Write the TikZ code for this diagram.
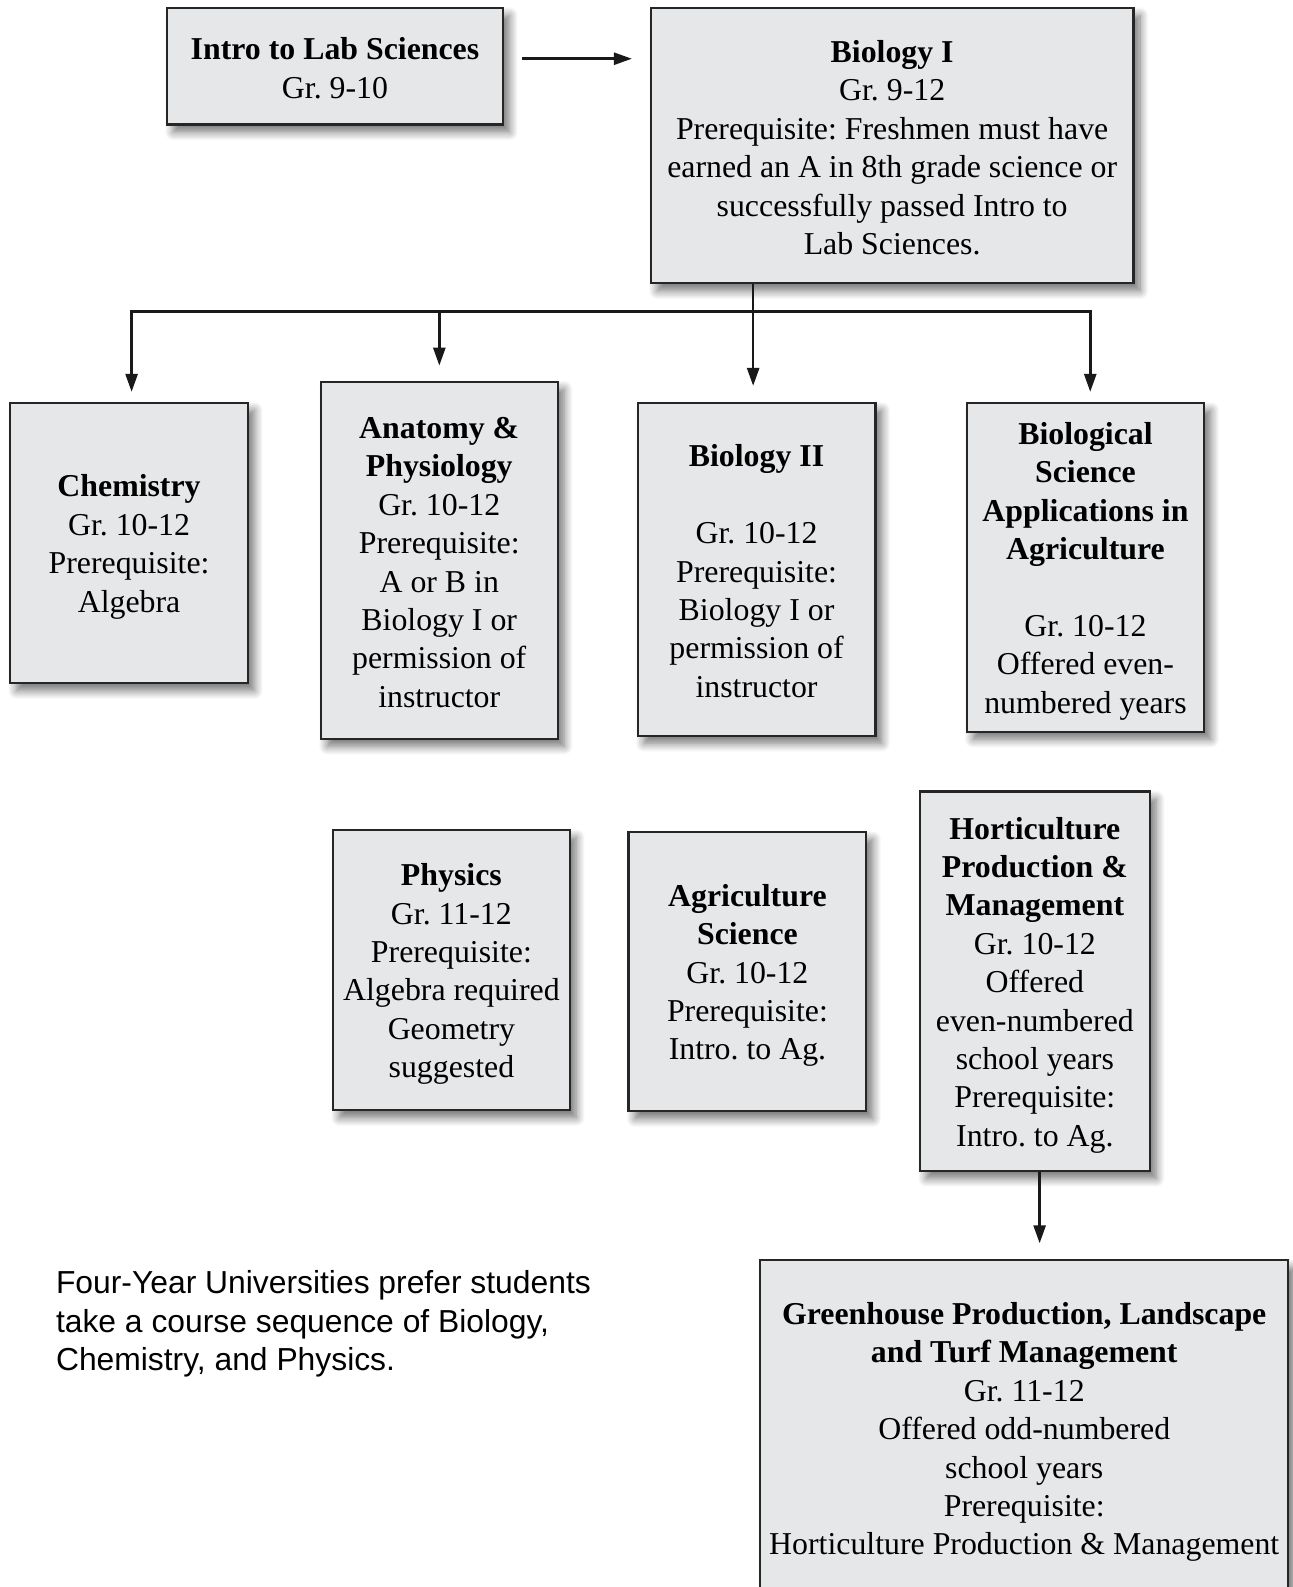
\documentclass[tikz,border=0pt]{standalone}
\usepackage{fontspec}
\setmainfont{Liberation Serif}
\newfontfamily\sansf{Liberation Sans}
\usetikzlibrary{arrows.meta,shadows.blur}
\definecolor{boxfill}{HTML}{E6E7E9}
\definecolor{boxline}{HTML}{262626}
\newcommand{\tstrut}{\rule{0pt}{16.8pt}}
\newcommand{\sstrut}{\rule{0pt}{14.5pt}}
\tikzset{
  box/.style={draw=boxline, line width=1.2pt, fill=boxfill, inner sep=0pt, align=center,
    font=\fontsize{17.9}{21.6}\selectfont,
    blur shadow={shadow xshift=0.13cm, shadow yshift=-0.15cm, shadow blur radius=0.17cm, shadow blur steps=10, shadow opacity=55}},
  shellbox/.style={draw=boxline, line width=1.2pt, fill=boxfill, inner sep=0pt,
    blur shadow={shadow xshift=0.13cm, shadow yshift=-0.15cm, shadow blur radius=0.17cm, shadow blur steps=10, shadow opacity=55}},
  txt/.style={inner sep=0pt, align=center, font=\fontsize{17.9}{21.6}\selectfont},
  conn/.style={line width=1.5pt, draw=black!90},
  arr/.style={conn, -{Triangle[width=0.24cm,length=0.36cm]}}
}
\frenchspacing
\begin{document}
\begin{tikzpicture}[x=0.02cm,y=-0.02cm]
\useasboundingbox (0,0) rectangle (1293,1587);
\clip (0,0) rectangle (1293,1587);
\begin{scope}[scale=1.0121, transform shape]

\node[box, minimum width=6.64cm, minimum height=2.3cm] (intro) at (331,65.5)
  {\sstrut\textbf{Intro to Lab Sciences}\\Gr. 9-10};
\node[box, minimum width=9.54cm, minimum height=5.44cm] (bio1) at (881.5,144)
  {\sstrut\textbf{Biology I}\\Gr. 9-12\\Prerequisite: Freshmen must have\\earned an A in 8th grade science or\\successfully passed Intro to\\Lab Sciences.};

\node[box, minimum width=4.7cm, minimum height=5.54cm] (chem) at (127.5,536.5)
  {\tstrut\textbf{Chemistry}\\Gr. 10-12\\Prerequisite:\\Algebra};
\node[box, minimum width=4.68cm, minimum height=7.06cm] (anat) at (434,553.5)
  {\sstrut\textbf{Anatomy \&}\\\textbf{Physiology}\\Gr. 10-12\\Prerequisite:\\A or B in\\Biology I or\\permission of\\instructor};
\node[box, minimum width=4.7cm, minimum height=6.58cm] (bio2) at (747.5,562.5)
  {\sstrut\textbf{Biology II}\\[21.6pt]Gr. 10-12\\Prerequisite:\\Biology I or\\permission of\\instructor};
\node[box, minimum width=4.7cm, minimum height=6.5cm] (bsa) at (1072.5,560.5)
  {\tstrut\textbf{Biological}\\\textbf{Science}\\\textbf{Applications in}\\\textbf{Agriculture}\\[21.6pt]Gr. 10-12\\Offered even-\\numbered years};

\node[box, minimum width=4.68cm, minimum height=5.54cm] (phys) at (446,958.5)
  {\tstrut\textbf{Physics}\\Gr. 11-12\\Prerequisite:\\Algebra required\\Geometry\\suggested};
\node[box, minimum width=4.7cm, minimum height=5.52cm] (agsci) at (738.5,960)
  {\tstrut\textbf{Agriculture}\\\textbf{Science}\\Gr. 10-12\\Prerequisite:\\Intro. to Ag.};
\node[box, minimum width=4.54cm, minimum height=7.5cm] (hort) at (1022.5,969.5)
  {\tstrut\textbf{Horticulture}\\\textbf{Production \&}\\\textbf{Management}\\Gr. 10-12\\Offered\\even-numbered\\school years\\Prerequisite:\\Intro. to Ag.};

\node[shellbox, minimum width=10.44cm, minimum height=7.92cm, anchor=north] (gh) at (1012,1244) {};
\node[txt] (ghtext) at (1012,1415)
  {\textbf{Greenhouse Production, Landscape}\\\textbf{and Turf Management}\\Gr. 11-12\\Offered odd-numbered\\school years\\Prerequisite:\\Horticulture Production \& Management};

\node[txt, align=left, anchor=west, font=\sansf\fontsize{17.9}{21.6}\selectfont] (note) at (55,1308)
  {Four-Year Universities prefer students\\take a course sequence of Biology,\\Chemistry, and Physics.};

% connectors
\draw[arr, shorten <=0.36cm, shorten >=0.36cm] ([yshift=0.15cm]intro.east) -- ([yshift=0.15cm]intro.east -| bio1.west);

\coordinate (j) at (744,308);
\draw[conn] (j |- bio1.south) -- (j);
\draw[arr, shorten >=0.32cm] (j) -- (j |- bio2.north);
\draw[arr, shorten >=0.2cm] (j) -| ([xshift=0.05cm]chem.north);
\draw[arr, shorten >=0.2cm] (j) -| ([xshift=0.09cm]bsa.north);
\draw[arr, shorten >=0.3cm] (anat.north |- j) -- (anat.north);
\draw[arr, shorten >=0.32cm] ([xshift=0.09cm]hort.south) -- ([xshift=0.09cm]hort.south |- gh.north);
\end{scope}
\end{tikzpicture}
\end{document}
